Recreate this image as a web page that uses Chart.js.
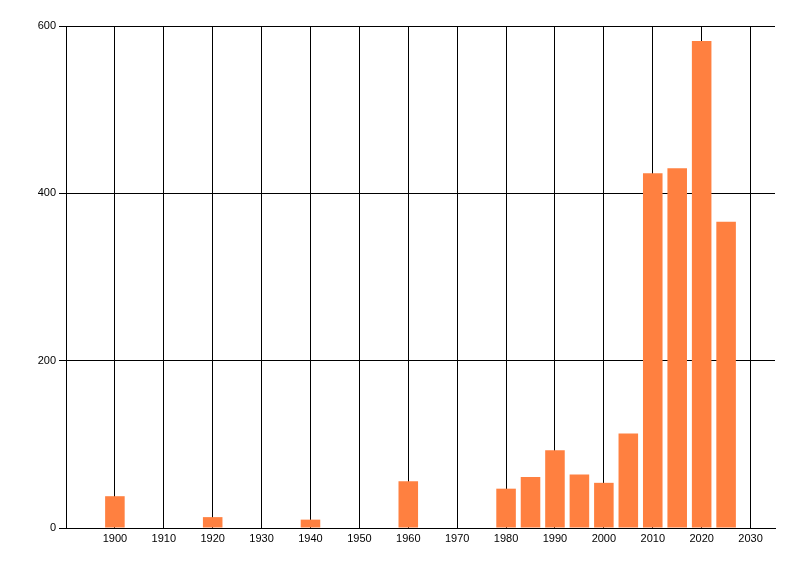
<!DOCTYPE html>
<html>
<head>
<meta charset="utf-8">
<script src="https://cdn.jsdelivr.net/npm/chart.js@4"></script>
<style>
  html, body { margin: 0; padding: 0; background: #fff; }
  #wrap { width: 800px; height: 576px; }
</style>
</head>
<body>
<div id="wrap"><canvas id="chart" width="800" height="576"></canvas></div>
<script>
const years = [1900, 1920, 1940, 1960, 1980, 1985, 1990, 1995, 2000, 2005, 2010, 2015, 2020, 2025];
const counts = [38, 13, 10, 56, 47, 61, 93, 64, 54, 113, 424, 430, 582, 366];
const xTicks = [1900, 1910, 1920, 1930, 1940, 1950, 1960, 1970, 1980, 1990, 2000, 2010, 2020, 2030];
const yTicks = [0, 200, 400, 600];

const ctx = document.getElementById("chart");

// bar chart on a linear year axis
const myChart = new Chart(ctx, {
  type: "bar",
  data: {
    datasets: [
      {
        data: years.map((y, i) => ({ x: y, y: counts[i] })),
        backgroundColor: "#FF8040",
        borderWidth: 0,
        categoryPercentage: 1,
        barPercentage: 0.8,
      },
    ],
  },
  options: {
    responsive: false,
    animation: false,
    devicePixelRatio: 1,
    layout: {
      padding: { top: 26, right: 25, left: 0, bottom: 0 },
    },
    plugins: {
      legend: { display: false },
      tooltip: { enabled: false },
    },
    scales: {
      x: {
        type: "linear",
        min: 1890,
        max: 2035,
        offset: false,
        afterBuildTicks: (scale) => {
          scale.ticks = xTicks.map((v) => ({ value: v }));
        },
        afterFit: (scale) => {
          scale.height = 48;
        },
        grid: {
          color: "black",
          lineWidth: 1,
          drawTicks: false,
          offset: false,
        },
        border: { color: "black", width: 1 },
        ticks: {
          color: "black",
          padding: 4,
          maxRotation: 0,
          autoSkip: false,
          font: { family: "Liberation Sans", size: 11 },
          callback: (v) => String(v),
        },
      },
      y: {
        min: 0,
        max: 600,
        afterBuildTicks: (scale) => {
          scale.ticks = yTicks.map((v) => ({ value: v }));
        },
        afterFit: (scale) => {
          scale.width = 66;
        },
        grid: {
          color: "black",
          lineWidth: 1,
          drawTicks: true,
          tickLength: 7,
        },
        border: { color: "black", width: 1 },
        ticks: {
          color: "black",
          padding: 3,
          font: { family: "Liberation Sans", size: 11 },
        },
      },
    },
  },
});
</script>
</body>
</html>
